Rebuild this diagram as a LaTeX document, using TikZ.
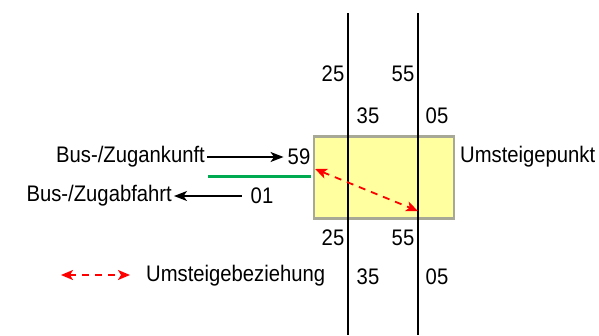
\documentclass[tikz,border=0pt]{standalone}
\usepackage{fontspec}
\setmainfont{Liberation Sans}[FakeStretch=0.9]
\usetikzlibrary{arrows.meta}
\definecolor{boxborder}{RGB}{168,168,150}
\definecolor{boxfill}{RGB}{255,255,160}
\definecolor{lgreen}{RGB}{0,170,80}
\begin{document}
\begin{tikzpicture}[x=1pt,y=-1pt,
  lbl/.style={font=\fontsize{22.5}{26}\selectfont, inner sep=0pt, text=black},
  track/.style={line width=1.8pt, black},
  blackarrow/.style={line width=1.5pt, -{Stealth[length=13pt,width=10pt,inset=3.5pt]}},
  redarrow/.style={red, line width=1.8pt, dash pattern=on 7pt off 6pt, {Stealth[length=12pt,width=10pt,inset=3pt]}-{Stealth[length=12pt,width=10pt,inset=3pt]}}]
\useasboundingbox (0,0) rectangle (599,335);
% transfer box
\node[draw=boxborder, line width=2.2pt, fill=boxfill, minimum width=140pt, minimum height=82pt, inner sep=0pt] (box) at (384,177.5) {};
% tracks
\coordinate (t1top) at (348,13); \coordinate (t1bot) at (348,335);
\coordinate (t2top) at (418,13); \coordinate (t2bot) at (418,335);
\draw[track] (t1top) -- (t1bot);
\draw[track] (t2top) -- (t2bot);
% times
\node[lbl] (a25) at (333,74) {25};
\node[lbl] (a55) at (403,74) {55};
\node[lbl] (a35) at (368,116) {35};
\node[lbl] (a05) at (437,116) {05};
\node[lbl] (b25) at (333,238) {25};
\node[lbl] (b55) at (403,238) {55};
\node[lbl] (b35) at (368,277) {35};
\node[lbl] (b05) at (437,277) {05};
% bus
\node[lbl, anchor=east] (ank) at (205,157) {Bus-/Zugankunft};
\node[lbl] (n59) at (299,157) {59};
\node[lbl, anchor=east] (abf) at (172,196) {Bus-/Zugabfahrt};
\node[lbl] (n01) at (262,196) {01};
\draw[blackarrow, shorten <=2pt, shorten >=4pt] (ank.east) -- (n59.west);
\draw[blackarrow, shorten <=9pt, shorten >=2pt] (n01.west) -- (abf.east);
\coordinate (g1) at (208,176); \coordinate (g2) at (311,176);
\draw[line width=3pt, lgreen] (g1) -- (g2);
\node[lbl, anchor=west] (ump) at (460,157) {Umsteigepunkt};
% transfer relation
\coordinate (r1) at (315,169); \coordinate (r2) at (418,211);
\draw[redarrow] (r1) -- (r2);
% legend
\coordinate (l1) at (61,275); \coordinate (l2) at (130,275);
\draw[redarrow] (l1) -- (l2);
\node[lbl, anchor=west] (leg) at (146,276) {Umsteigebeziehung};
\end{tikzpicture}
\end{document}
